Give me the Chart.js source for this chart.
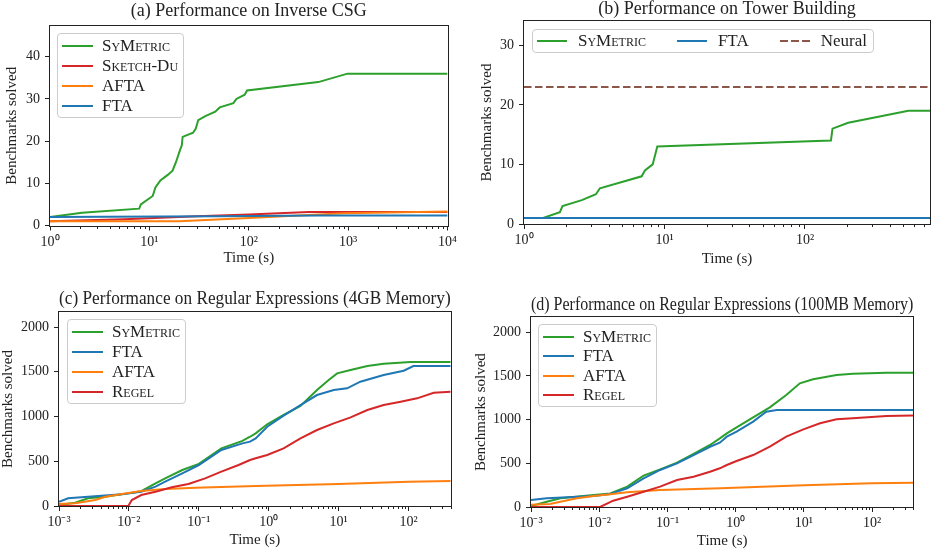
<!DOCTYPE html>
<html>
<head>
<meta charset="utf-8">
<script src="https://cdn.jsdelivr.net/npm/chart.js@4/dist/chart.umd.min.js"></script>
<style>
html, body { margin: 0; padding: 0; background: #fff; width: 932px; height: 554px; overflow: hidden; }
.panel { position: absolute; }
.panel canvas { position: absolute; left: 0; top: 0; }
.legend { position: absolute; box-sizing: border-box; border: 1px solid #cccccc; border-radius: 4px;
  background: rgba(255,255,255,0.8); font-family: "Liberation Serif", serif; font-size: 17px; color: #222;
  padding: 2px 5px 1px 4px; }
.legend .item { display: flex; align-items: center; white-space: nowrap; }
.legend .swatch { flex: none; width: 31px; height: 2px; margin-right: 9px; }
.legend .sc { font-variant: small-caps; }
.legend.row { display: flex; padding: 1px 6px 1px 4px; }
.legend.row .item { margin-right: 31px; }
.legend.row .item:last-child { margin-right: 0; }
.legend.row .swatch { width: 30px; margin-right: 11px; }
</style>
</head>
<body>
<div class="panel" id="pa" style="left:0;top:0;"><canvas id="ca" width="460" height="270"></canvas><div class="legend" id="la"></div></div>
<div class="panel" id="pb" style="left:460px;top:0;"><canvas id="cb" width="472" height="270"></canvas><div class="legend row" id="lb"></div></div>
<div class="panel" id="pc" style="left:0;top:277px;"><canvas id="cc" width="460" height="277"></canvas><div class="legend" id="lc"></div></div>
<div class="panel" id="pd" style="left:460px;top:277px;"><canvas id="cd" width="460" height="277"></canvas><div class="legend" id="ld"></div></div>
<script>
// ---- data (time in seconds, benchmarks solved) ----
var csgTicks = [1, 10, 100, 1000, 10000];
var csgTickLabels = ['10⁰', '10¹', '10²', '10³', '10⁴'];
var towerTicks = [1, 10, 100];
var towerTickLabels = ['10⁰', '10¹', '10²'];
var regexTicks = [0.001, 0.01, 0.1, 1, 10, 100];
var regexTickLabels = ['10⁻³', '10⁻²', '10⁻¹', '10⁰', '10¹', '10²'];
var csgYTicks = [0, 10, 20, 30, 40];
var towerYTicks = [0, 10, 20, 30];
var regexYTicks = [0, 500, 1000, 1500, 2000];

var csgSyMetric = [[1,2],[2.1,3],[7.9,4],[8.2,5],[10.8,7],[11.5,9],[12.9,10.7],[15.3,12],[17.1,13],[18.5,15],
  [20.4,18],[21.2,19],[21.6,21],[27.5,22],[29.3,23],[31,25],[37,26],[46,27],[51,28],[70,29],[75,30],[91,31],
  [96,32],[500,34],[985,36],[10000,36]];
var csgSketchDu = [[1,1],[5.6,1.5],[30,2.2],[100,2.6],[400,3.2],[10000,3.2]];
var csgAfta = [[1,1],[20,1],[100,1.8],[900,2.9],[10000,3.3]];
var csgFta = [[1,2],[50,2.2],[500,2.4],[10000,2.4]];

var towerSyMetric = [[1,1],[1.37,1],[1.8,2],[1.88,3],[2.58,4],[3.25,5],[3.47,6],[6.88,8],[7.26,9],[8.24,10],
  [8.89,13],[153,14],[157,16],[203,17],[333,18],[544,19],[776,19]];
var towerFta = [[1,1],[776,1]];
var towerNeural = [[1,23],[776,23]];

var regex4gbSyMetric = [[0.001,11],[0.0017,37],[0.0026,86],[0.0046,104],[0.0079,130],[0.015,165],[0.024,253],
  [0.033,309],[0.058,402],[0.1,470],[0.21,644],[0.42,728],[0.54,774],[0.65,812],[0.95,913],[1.63,1017],
  [2.84,1117],[4.9,1296],[7.2,1408],[9.5,1482],[14.8,1520],[25.7,1564],[44,1590],[107,1609],[400,1610]];
var regex4gbFta = [[0.001,48],[0.00135,86],[0.0026,104],[0.0079,130],[0.015,160],[0.024,216],[0.033,272],
  [0.058,365],[0.1,458],[0.21,626],[0.42,700],[0.54,719],[0.65,756],[0.95,886],[1.63,1010],[2.84,1128],
  [4.9,1240],[8.5,1296],[13.2,1315],[20.4,1389],[44,1464],[85,1512],[117,1564],[400,1565]];
var regex4gbAfta = [[0.001,22],[0.0017,30],[0.0033,67],[0.0046,104],[0.0079,134],[0.015,168],[0.033,190],
  [0.089,205],[0.65,223],[10,245],[100,270],[400,279]];
var regex4gbRegel = [[0.001,0],[0.0098,0],[0.011,67],[0.015,123],[0.024,160],[0.041,209],[0.071,246],
  [0.123,309],[0.21,384],[0.37,458],[0.54,514],[0.65,533],[0.95,570],[1.63,644],[2.84,756],[4.9,849],
  [8.5,924],[14.8,991],[25.7,1073],[44,1128],[77,1165],[132,1203],[229,1266],[400,1277]];

var regex100mbSyMetric = [[0.001,11],[0.0017,61],[0.0027,99],[0.0083,137],[0.0145,156],[0.0257,233],
  [0.0447,359],[0.078,431],[0.138,508],[0.241,607],[0.42,710],[0.585,786],[0.74,843],[1.03,912],[1.8,1027],
  [3.16,1141],[5.5,1282],[8.7,1416],[13.6,1462],[30,1511],[52,1526],[162,1538],[400,1538]];
var regex100mbFta = [[0.001,80],[0.0017,99],[0.0083,126],[0.0145,149],[0.0257,214],[0.0447,328],[0.078,424],
  [0.138,500],[0.241,595],[0.42,690],[0.585,736],[0.74,805],[1.03,862],[1.8,977],[2.8,1091],[4,1110],[400,1110]];
var regex100mbAfta = [[0.001,27],[0.0019,34],[0.0027,61],[0.0047,99],[0.0083,126],[0.0145,145],[0.0257,168],
  [0.078,195],[0.6,214],[10,248],[100,272],[400,278]];
var regex100mbRegel = [[0.001,0],[0.0103,0],[0.016,72],[0.0257,118],[0.0447,175],[0.078,233],[0.138,309],
  [0.241,347],[0.42,404],[0.585,443],[0.74,481],[1.03,527],[1.8,595],[3.16,691],[5.5,805],[9.8,889],
  [17.2,958],[30,1004],[52,1015],[162,1042],[400,1048]];

var GREEN = '#2ca02c', RED = '#d62728', ORANGE = '#ff7f0e', BLUE = '#1f77b4', BROWN = '#8c564b';
var SERIF = '"Liberation Serif", serif';
var INK = '#222222';

var panels = [
  { canvas: 'ca', legend: 'la', title: '(a) Performance on Inverse CSG', titlePad: {top: 0, bottom: 4.4},
    pad: {left: 0, right: 10.5}, yWidth: 50, yTitlePad: 3.5, xHeight: 44.5, xTitlePad: 3,
    xMin: 1, xMax: 10000, yMax: 47.3, yTicks: csgYTicks, ticks: csgTicks, tickLabels: csgTickLabels,
    legendAt: [7, 7], rowH: 20,
    series: [
      {label: 'SyMetric', pts: csgSyMetric, color: GREEN, sc: true},
      {label: 'Sketch-Du', pts: csgSketchDu, color: RED, sc: true},
      {label: 'AFTA', pts: csgAfta, color: ORANGE},
      {label: 'FTA', pts: csgFta, color: BLUE}
    ] },
  { canvas: 'cb', legend: 'lb', title: '(b) Performance on Tower Building', titlePad: {top: -1.5, bottom: 0.9},
    pad: {left: 0, right: 2}, yWidth: 64, yTitlePad: 18.5, xHeight: 46, xTitlePad: 2,
    xMin: 1, xMax: 776, yMax: 34.07, yTicks: towerYTicks, ticks: towerTicks, tickLabels: towerTickLabels,
    legendAt: [8, 8], rowH: 20,
    series: [
      {label: 'SyMetric', pts: towerSyMetric, color: GREEN, sc: true},
      {label: 'FTA', pts: towerFta, color: BLUE},
      {label: 'Neural', pts: towerNeural, color: BROWN, dash: [7.5, 3.5]}
    ] },
  { canvas: 'cc', legend: 'lc', title: '(c) Performance on Regular Expressions (4GB Memory)', titlePad: {top: 11.2, bottom: 2.2},
    pad: {left: 0, right: 9.3}, yWidth: 59, yTitlePad: -0.5, xHeight: 48, xTitlePad: 5,
    xMin: 0.001, xMax: 400, yMax: 2168, yTicks: regexYTicks, ticks: regexTicks, tickLabels: regexTickLabels,
    legendAt: [8, 7], rowH: 20,
    series: [
      {label: 'SyMetric', pts: regex4gbSyMetric, color: GREEN, sc: true},
      {label: 'FTA', pts: regex4gbFta, color: BLUE},
      {label: 'AFTA', pts: regex4gbAfta, color: ORANGE},
      {label: 'Regel', pts: regex4gbRegel, color: RED, sc: true}
    ] },
  { canvas: 'cd', legend: 'ld', title: '(d) Performance on Regular Expressions (100MB Memory)', titlePad: {top: 17.7, bottom: 1},
    pad: {left: 0, right: 6.7}, yWidth: 71, yTitlePad: 12.5, xHeight: 47, xTitlePad: 3.5,
    xMin: 0.001, xMax: 400, yMax: 2172, yTicks: regexYTicks, ticks: regexTicks, tickLabels: regexTickLabels,
    legendAt: [7, 7], rowH: 19.4,
    series: [
      {label: 'SyMetric', pts: regex100mbSyMetric, color: GREEN, sc: true},
      {label: 'FTA', pts: regex100mbFta, color: BLUE},
      {label: 'AFTA', pts: regex100mbAfta, color: ORANGE},
      {label: 'Regel', pts: regex100mbRegel, color: RED, sc: true}
    ] }
];

// full box around the plotting area (like matplotlib spines) + short minor ticks
var frame = {
  id: 'frame',
  afterDraw: function (chart) {
    var a = chart.chartArea, c = chart.ctx, xs = chart.scales.x;
    c.save();
    c.strokeStyle = INK;
    c.lineWidth = 1;
    c.strokeRect(Math.round(a.left) - 0.5, Math.round(a.top) - 0.5, Math.round(a.right - a.left) + 1, Math.round(a.bottom - a.top) + 1);
    var yb = Math.round(a.bottom);
    c.beginPath();
    xs.ticks.forEach(function (t) {
      if (t.major) return;
      var px = Math.round(xs.getPixelForValue(t.value)) + 0.5;
      c.moveTo(px, yb);
      c.lineTo(px, yb + 3);
    });
    c.stroke();
    c.restore();
  }
};

// legend as html so the small caps names keep their own style
var htmlLegend = {
  id: 'htmlLegend',
  afterUpdate: function (chart, args, opts) {
    var box = document.getElementById(opts.containerID);
    box.innerHTML = '';
    chart.data.datasets.forEach(function (ds) {
      var item = document.createElement('div');
      item.className = 'item';
      item.style.height = opts.rowH + 'px';
      var sw = document.createElement('span');
      sw.className = 'swatch';
      if (ds.borderDash && ds.borderDash.length) {
        var d = ds.borderDash[0], g = ds.borderDash[0] + ds.borderDash[1];
        sw.style.background = 'repeating-linear-gradient(to right,' + ds.borderColor + ' 0 ' + d + 'px, transparent ' + d + 'px ' + g + 'px)';
      } else {
        sw.style.background = ds.borderColor;
      }
      var txt = document.createElement('span');
      if (ds.smallCaps) txt.className = 'sc';
      txt.textContent = ds.label;
      item.appendChild(sw);
      item.appendChild(txt);
      box.appendChild(item);
    });
    box.style.left = (chart.chartArea.left + opts.offset[0]) + 'px';
    box.style.top = (chart.chartArea.top + opts.offset[1]) + 'px';
  }
};

function supIndex(list, v) {
  for (var i = 0; i < list.length; i++) {
    if (Math.abs(Math.log10(list[i]) - Math.log10(v)) < 1e-6) return i;
  }
  return -1;
}

panels.forEach(function (p) {
  var n = p.series.length;
  var datasets = p.series.map(function (s, i) {
    return {
      label: s.label,
      data: s.pts.map(function (q) { return {x: q[0], y: q[1]}; }),
      borderColor: s.color,
      backgroundColor: s.color,
      borderWidth: 2,
      borderDash: s.dash || [],
      pointRadius: 0,
      tension: 0,
      fill: false,
      order: n - i,
      smallCaps: !!s.sc
    };
  });

  new Chart(document.getElementById(p.canvas), {
    type: 'line',
    data: { datasets: datasets },
    plugins: [frame, htmlLegend],
    options: {
      responsive: false,
      animation: false,
      devicePixelRatio: 1,
      layout: { padding: { left: p.pad.left, right: p.pad.right, top: 0, bottom: 0 } },
      plugins: {
        legend: { display: false },
        tooltip: { enabled: false },
        title: {
          display: true, text: p.title, fullSize: false, color: INK,
          font: { family: SERIF, size: 18, weight: 'normal' }, padding: p.titlePad
        },
        htmlLegend: { containerID: p.legend, offset: p.legendAt, rowH: p.rowH }
      },
      scales: {
        x: {
          type: 'logarithmic', min: p.xMin, max: p.xMax,
          border: { display: false },
          grid: {
            drawOnChartArea: false, drawTicks: true, tickLength: 5, color: INK,
            tickColor: function (ctx) { return ctx.tick && ctx.tick.major ? INK : 'rgba(0,0,0,0)'; }
          },
          ticks: {
            autoSkip: false, maxRotation: 0, padding: 3, color: INK,
            font: { family: SERIF, size: 14 },
            callback: function (v) {
              var k = supIndex(p.ticks, v);
              return k >= 0 ? p.tickLabels[k] : '';
            }
          },
          title: { display: true, text: 'Time (s)', color: INK, font: { family: SERIF, size: 15 }, padding: { top: 0, bottom: p.xTitlePad } },
          afterBuildTicks: function (scale) {
            var t = [];
            var e0 = Math.floor(Math.log10(p.xMin) + 1e-9), e1 = Math.ceil(Math.log10(p.xMax) - 1e-9);
            for (var e = e0; e <= e1; e++) {
              for (var m = 1; m < 10; m++) {
                var v = parseFloat((m * Math.pow(10, e)).toPrecision(6));
                if (v >= p.xMin * 0.9999 && v <= p.xMax * 1.0001) t.push({ value: v, major: m === 1 });
              }
            }
            scale.ticks = t;
          },
          afterFit: function (scale) { scale.height = p.xHeight; }
        },
        y: {
          type: 'linear', min: 0, max: p.yMax,
          border: { display: false },
          grid: { drawOnChartArea: false, drawTicks: true, tickLength: 5, color: INK },
          ticks: {
            padding: 5, color: INK, font: { family: SERIF, size: 14 },
            callback: function (v) { return String(v); }
          },
          afterBuildTicks: function (scale) {
            scale.ticks = p.yTicks.map(function (v) { return { value: v }; });
          },
          title: { display: true, text: 'Benchmarks solved', color: INK, font: { family: SERIF, size: 15 }, padding: { top: p.yTitlePad, bottom: 0 } },
          afterFit: function (scale) { scale.width = p.yWidth; }
        }
      }
    }
  });
});
</script>
</body>
</html>
